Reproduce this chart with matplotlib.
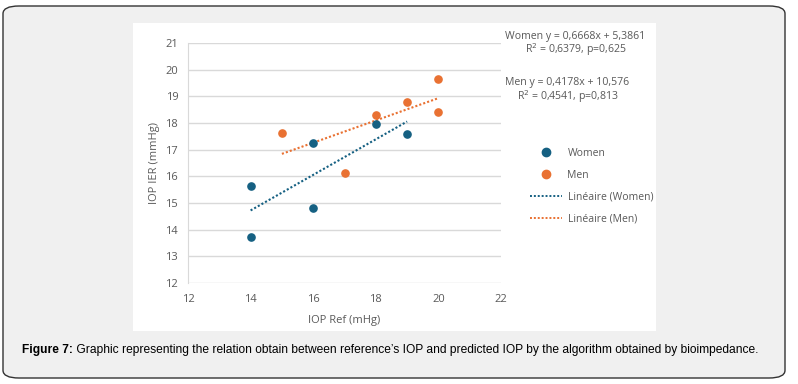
import numpy as np
import matplotlib
matplotlib.use("Agg")
import matplotlib.pyplot as plt
from matplotlib.patches import FancyBboxPatch, Rectangle
from matplotlib.lines import Line2D

# data
women_x = [14, 14, 16, 16, 18, 19]
women_y = [15.63, 13.73, 14.80, 17.25, 17.95, 17.60]
men_x = [15, 17, 18, 19, 20, 20]
men_y = [17.63, 16.12, 18.31, 18.78, 19.66, 18.43]

# trend line coefficients (slope, intercept) shown on the chart
women_fit = (0.6668, 5.3861)
men_fit = (0.4178, 10.576)

women_eq = ["Women y = 0,6668x + 5,3861", "R$^2$ = 0,6379, p=0,625"]
men_eq = ["Men y = 0,4178x + 10,576", "R$^2$ = 0,4541, p=0,813"]

x_ticks = [12, 14, 16, 18, 20, 22]
y_ticks = [12, 13, 14, 15, 16, 17, 18, 19, 20, 21]

caption_bold = "Figure 7:"
caption_rest = (" Graphic representing the relation obtain between reference\u2019s IOP "
                "and predicted IOP by the algorithm obtained by bioimpedance.")

c_women = "#156082"
c_men = "#E97132"
grey_txt = "#595959"
grid_c = "#d9d9d9"

plt.rcParams['font.family'] = ['Open Sans', 'DejaVu Sans']

W, H = 798, 384
fig = plt.figure(figsize=(W / 100, H / 100), dpi=100)
fig.patch.set_facecolor("white")

# outer rounded grey box
box = FancyBboxPatch((3 / W, 6 / H), 782 / W, 372 / H,
                     boxstyle="round,pad=0,rounding_size=0.02",
                     transform=fig.transFigure, facecolor="#f0f0f0",
                     edgecolor="#333333", linewidth=1.0, zorder=-2)
fig.patches.append(box)
# white chart panel
panel = Rectangle((133 / W, 1 - 331 / H), (656 - 133) / W, (331 - 23) / H,
                  transform=fig.transFigure, facecolor="white",
                  edgecolor="none", zorder=-1)
fig.patches.append(panel)

ax = fig.add_axes([188 / W, 1 - 283 / H, (501 - 188) / W, (283 - 43) / H])
ax.set_facecolor("none")
ax.set_xlim(12, 22)
ax.set_ylim(12, 21)
ax.set_xticks(x_ticks)
ax.set_yticks(y_ticks)
ax.yaxis.grid(True, color=grid_c, linewidth=1.0)
ax.set_axisbelow(True)
for side in ["top", "right", "bottom"]:
    ax.spines[side].set_visible(False)
ax.spines["left"].set_color(grid_c)
ax.tick_params(length=0, colors=grey_txt, labelsize=8)
ax.tick_params(axis="y", pad=7)
ax.tick_params(axis="x", pad=8)

ax.scatter(women_x, women_y, s=27, color=c_women, zorder=3)
ax.scatter(men_x, men_y, s=27, color=c_men, zorder=3)

wx = np.array([min(women_x), max(women_x)])
mx = np.array([min(men_x), max(men_x)])
ax.plot(wx, women_fit[0] * wx + women_fit[1], color=c_women, linestyle=(0, (1, 1)), linewidth=1.5, zorder=2)
ax.plot(mx, men_fit[0] * mx + men_fit[1], color=c_men, linestyle=(0, (1, 1)), linewidth=1.5, zorder=2)

ax.set_xlabel("IOP Ref (mHg)", color=grey_txt, fontsize=8, labelpad=7)
ax.set_ylabel("IOP IER (mmHg)", color=grey_txt, fontsize=8, labelpad=4)

# equations
fig.text(575 / W, 1 - 36 / H, women_eq[0], ha="center", va="center", fontsize=7.6, color=grey_txt)
fig.text(576 / W, 1 - 50 / H, women_eq[1], ha="center", va="center", fontsize=7.6, color=grey_txt)
fig.text(567 / W, 1 - 83 / H, men_eq[0], ha="center", va="center", fontsize=7.6, color=grey_txt)
fig.text(568 / W, 1 - 97 / H, men_eq[1], ha="center", va="center", fontsize=7.6, color=grey_txt)

handles = [
    Line2D([], [], marker="o", linestyle="none", color=c_women, markersize=6),
    Line2D([], [], marker="o", linestyle="none", color=c_men, markersize=6),
    Line2D([], [], color=c_women, linestyle=(0, (1, 1)), linewidth=1.4),
    Line2D([], [], color=c_men, linestyle=(0, (1, 1)), linewidth=1.4),
]
labels = ["Women", "Men", "Lin\u00e9aire (Women)", "Lin\u00e9aire (Men)"]
fig.legend(handles, labels, loc="upper left", bbox_to_anchor=(530 / W, 1 - 148 / H),
           frameon=False, fontsize=7.5, labelcolor=grey_txt, handlelength=3.1,
           handletextpad=0.5, labelspacing=1.05, borderpad=0, borderaxespad=0)

# caption
t1 = fig.text(22 / W, 1 - 350 / H, caption_bold, ha="left", va="center",
              fontsize=8.65, fontweight="bold", family=["Liberation Sans"], color="black")
fig.canvas.draw()
bb = t1.get_window_extent()
fig.text(bb.x1 / W, 1 - 350 / H, caption_rest, ha="left", va="center",
         fontsize=8.65, family=["Liberation Sans"], color="black")

fig.savefig("out.png", dpi=100)
